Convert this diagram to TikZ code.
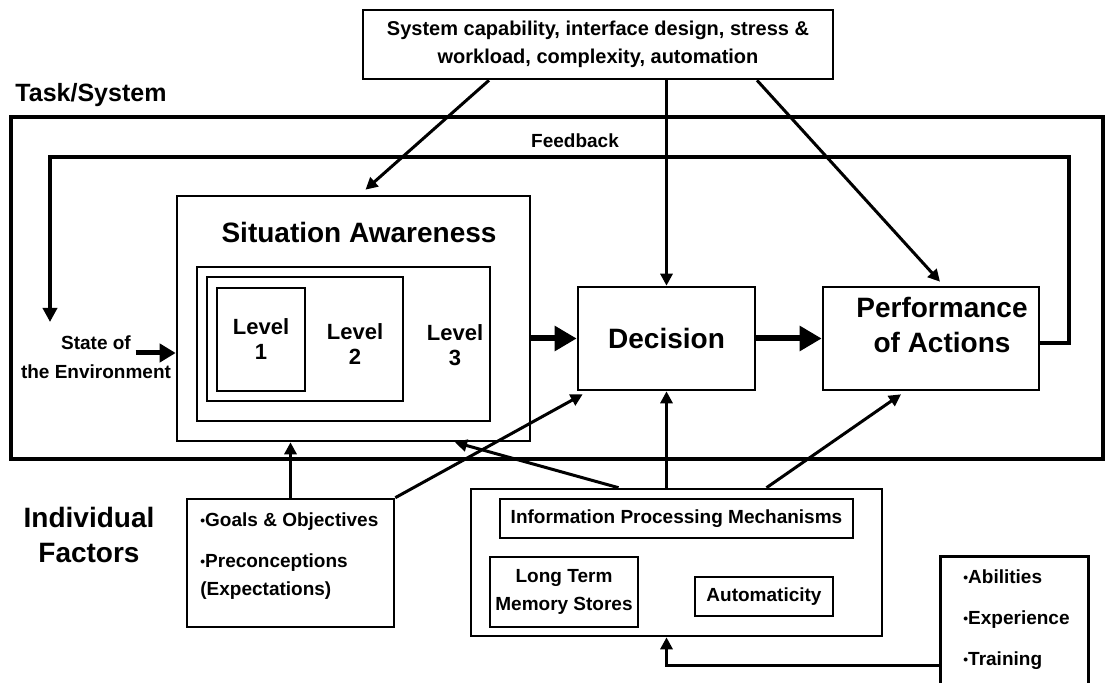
\documentclass[tikz,border=0pt]{standalone}
\usepackage{fontspec}
\setmainfont{Liberation Sans}
\usetikzlibrary{arrows.meta}
\newcommand{\dotitem}{\raisebox{0.06em}{\scalebox{0.72}{•}}}
\begin{document}
\begin{tikzpicture}[x=0.5pt,y=-0.5pt,
  box/.style={draw=black,line width=1.3pt,inner sep=0pt,align=center},
  lbl/.style={inner sep=0pt,align=center},
  bigfont/.style={font=\bfseries\fontsize{14}{17.5}\selectfont},
  smallfont/.style={font=\bfseries\fontsize{9.5}{14}\selectfont},
  levelfont/.style={font=\bfseries\fontsize{11}{12.5}\selectfont},
  arr/.style={line width=1.5pt,-{Triangle[length=6pt,width=6pt]}},
  fatarr/.style={line width=3pt,-{Triangle[length=11pt,width=12pt]}},
  midarr/.style={line width=2.5pt,-{Triangle[length=8pt,width=9pt]}},
  loopline/.style={line width=2pt,-{Triangle[length=7pt,width=7pt]}}]
\useasboundingbox (0,0) rectangle (1106,683);
\node[box] (sys)[minimum width=235pt,minimum height=34.5pt,font=\bfseries\fontsize{10}{14}\selectfont] at (598,44.5) {System capability, interface design, stress \&\\workload, complexity, automation};
\node[lbl] (tasklbl)[font=\bfseries\fontsize{12.5}{15}\selectfont] at (91,95) {Task/System};
\node[box] (task)[line width=2pt,minimum width=546pt,minimum height=171pt] at (557,288) {};
\node[lbl,smallfont] (fblbl) at (575,141) {Feedback};
\node[box] (sa)[minimum width=176.5pt,minimum height=122.5pt] at (353.5,318.5) {};
\node[lbl,bigfont] (satitle) at (359,232) {Situation Awareness};
\node[box] (lev3)[minimum width=146.5pt,minimum height=77pt] at (343.5,344) {};
\node[box] (lev2)[minimum width=98pt,minimum height=62pt] at (305,339) {};
\node[box,levelfont] (lev1)[minimum width=44pt,minimum height=51.5pt] at (261,339.5) {Level\\1};
\node[lbl,levelfont] (lev2txt) at (355,344) {Level\\2};
\node[lbl,levelfont] (lev3txt) at (455,345) {Level\\3};
\node[lbl,smallfont] (state)[font=\bfseries\fontsize{9.5}{14.5}\selectfont] at (96,357) {State of\\the Environment};
\node[box,bigfont] (dec)[minimum width=88.5pt,minimum height=51.5pt] at (666.5,338.5) {Decision};
\node[box] (perf)[minimum width=108pt,minimum height=51.5pt] at (931,338.5) {};
\node[lbl,bigfont] (perftxt) at (942,325) {Performance\\of Actions};
\node[lbl,bigfont] (indiv) at (89,535) {Individual\\Factors};
\node[box] (goals)[minimum width=103.5pt,minimum height=64pt] at (290.5,563) {};
\node[lbl,smallfont,anchor=west,align=left] (goalstxt) at (200,556) {\dotitem Goals \& Objectives\\[6.5pt]\dotitem Preconceptions\\(Expectations)};
\node[box] (ipm)[minimum width=205.5pt,minimum height=73.5pt] at (676.5,562.5) {};
\node[box,smallfont] (ipmtop)[minimum width=176.5pt,minimum height=19.5pt] at (676.5,518.5) {Information Processing Mechanisms};
\node[box,smallfont] (ltm)[minimum width=74pt,minimum height=35pt] at (564,592) {Long Term\\Memory Stores};
\node[box,smallfont] (auto)[minimum width=69pt,minimum height=19.5pt] at (764,596.5) {Automaticity};
\node[lbl] (abil)[minimum width=73.5pt,minimum height=63pt] at (1014.5,620) {};
\node[lbl,smallfont,anchor=west,align=left] (abiltxt)[font=\bfseries\fontsize{9.5}{20.5}\selectfont] at (963,620) {\dotitem Abilities\\\dotitem Experience\\\dotitem Training};
\draw[line width=1.3pt] (abil.south west) -- (abil.north west) -- (abil.north east) -- (abil.south east);
\draw[arr] ([xshift=-54.5pt]sys.south) -- ([xshift=6pt,yshift=2.5pt]sa.north);
\draw[arr] (sys.south -| dec.north) -- (dec.north);
\draw[arr] ([xshift=79.5pt]sys.south) -- ([xshift=4.5pt,yshift=2pt]perf.north);
\draw[midarr] ([xshift=-20pt,yshift=-17.25pt]sa.west) -- ([yshift=-17.25pt]sa.west);
\draw[fatarr] (sa.east |- dec.west) -- (dec.west);
\draw[fatarr] (dec.east) -- (perf.west);
\coordinate (fbright) at (1069,157);
\coordinate (envtop) at (50,322);
\draw[loopline] ([yshift=-2.5pt]perf.east) -| (fbright) -| (envtop);
\draw[arr] (goals.north) -- (goals.north |- sa.south);
\draw[arr] (goals.north east) -- ([xshift=3pt,yshift=-1.5pt]dec.south west);
\draw[arr] ([xshift=-29pt]ipm.north) -- ([xshift=50.75pt]sa.south);
\draw[arr] (ipm.north -| dec.south) -- (dec.south);
\draw[arr] ([xshift=45pt]ipm.north) -- ([xshift=-15pt,yshift=-1.5pt]perf.south);
\draw[arr] ([yshift=-22.5pt]abil.west) -| ([xshift=-5pt]ipm.south);
\end{tikzpicture}
\end{document}
